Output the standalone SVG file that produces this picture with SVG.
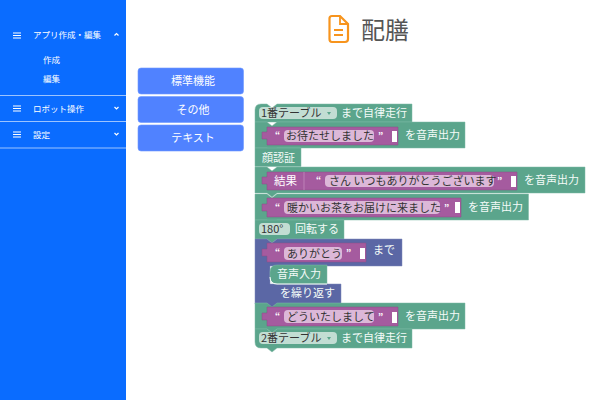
<svg xmlns="http://www.w3.org/2000/svg" width="600" height="400" viewBox="0 0 600 400">
<style>
text{font-family:"Noto Sans CJK JP","Noto Sans",sans-serif}
.g{fill:#5ba58c;stroke:#7fb8a4;stroke-width:.5}
.b{fill:#5b67a5;stroke:#7f89b8;stroke-width:.5}
.p{fill:#a55b9f;stroke:#8a4c85;stroke-width:.5}
.f{fill:#dcb8d8}
.d{fill:#c2ddd3}
.w{fill:#f4fbf8;font-size:11px}
.k{fill:#333;font-size:11px}
.q{fill:#fff;font-size:11.500px}
.o{fill:#fff;font-size:9px;font-weight:bold}
.m{fill:#fff;font-size:8.500px}
.s{fill:#fff;font-size:8.500px}
.n{fill:#5082ff;stroke:#6f98ff;stroke-width:.6}
.t{fill:#fff;font-size:11px;text-anchor:middle}
.l{stroke:#9cc4ff;stroke-width:1;fill:none}
.h{stroke:#fff;stroke-width:1.200;fill:none}
.c{stroke:#fff;stroke-width:1.200;fill:none}
.a{fill:#5ba58c}
</style>
<rect width="600" height="400" fill="#fff"/>
<g id="sidebar">
<rect x="0" y="0" width="126" height="400" fill="#0a6cff"/>
<path class="l" d="M0 95.500H126M0 121.500H126M0 148H126"/>
</g>
<g id="menu-app">
<path class="h" d="M13 33H21M13 35.500H21M13 38H21"/>
<text class="m" x="33" y="37.500">アプリ作成・編集</text>
<path class="c" d="M114.500 35.500L116.500 33.500L118.500 35.500"/>
<text class="s" x="43" y="63">作成</text>
<text class="s" x="43" y="82">編集</text>
</g>
<g id="menu-robot">
<path class="h" d="M13 106H21M13 108.500H21M13 111H21"/>
<text class="m" x="33" y="111.500">ロボット操作</text>
<path class="c" d="M114.500 107L116.500 109L118.500 107"/>
</g>
<g id="menu-settings">
<path class="h" d="M13 132H21M13 134.500H21M13 137H21"/>
<text class="m" x="33" y="137.500">設定</text>
<path class="c" d="M114.500 133L116.500 135L118.500 133"/>
</g>
<g id="title">
<path d="M332 16H340L348 24V39Q348 42 345 42H332Q329.500 42 329.500 39V18.500Q329.500 16 332 16Z" fill="none" stroke="#f7941d" stroke-width="2.200"/>
<path d="M340 16V24H348M334 30H343M334 35H343" fill="none" stroke="#f7941d" stroke-width="1.800"/>
<text x="361" y="39" font-size="24" fill="#555">配膳</text>
</g>
<g id="btn-standard"><rect class="n" x="138" y="68" width="105.500" height="26" rx="3"/><text class="t" x="193" y="85">標準機能</text></g>
<g id="btn-other"><rect class="n" x="138" y="96.500" width="105.500" height="26" rx="3"/><text class="t" x="193" y="113.500">その他</text></g>
<g id="btn-text"><rect class="n" x="138" y="125" width="105.500" height="26" rx="3"/><text class="t" x="193" y="142">テキスト</text></g>
<g id="block-table1">
<path class="g" d="M255 110Q255 104 261 104H267L272 108L277 104H412V122H255Z"/>
<rect class="d" x="259" y="107" width="78" height="12" rx="4"/>
<text class="k" x="261" y="117">1番テーブル</text>
<path class="a" d="M327 112H331L329 115Z"/>
<text class="w" x="341" y="117">まで自律走行</text>
</g>
<g id="block-say1">
<path class="g" d="M255 122H267L272 126L277 122H465V148H277L272 152L267 148H255Z"/>
<path class="p" d="M267 127H398V145H267V139H262V132H267Z"/>
<text class="o" x="275" y="139">“</text>
<rect class="f" x="284" y="130" width="90" height="12" rx="4"/>
<text class="k" x="286" y="140">お待たせしました</text>
<text class="o" x="378" y="139">”</text>
<path d="M392 131H397V142H392Z" fill="#fff"/>
<text class="w" x="405" y="139">を音声出力</text>
</g>
<g id="block-face">
<path class="g" d="M255 148H301V166.500H255Z"/>
<text class="w" x="262" y="162">顔認証</text>
</g>
<g id="block-say2">
<path class="g" d="M255 167H267L272 171L277 167H585V193H277L272 197L267 193H255Z"/>
<path class="p" d="M267 172H517V190H267V184H262V177H267Z"/>
<text class="q" x="274" y="184.500">結果</text>
<path d="M304 172V190" stroke="#c48cbe" stroke-width=".8"/>
<text class="o" x="316" y="184">“</text>
<rect class="f" x="325" y="175" width="169" height="12" rx="4"/>
<text class="k" x="329" y="185">さん いつもありがとうございます</text>
<text class="o" x="497" y="184">”</text>
<path d="M511 176H516V187H511Z" fill="#fff"/>
<text class="w" x="524" y="184">を音声出力</text>
</g>
<g id="block-say3">
<path class="g" d="M255 194H267L272 198L277 194H528.500V220H277L272 224L267 220H255Z"/>
<path class="p" d="M267 198H461V217H267V211H262V204H267Z"/>
<text class="o" x="275" y="211">“</text>
<rect class="f" x="284" y="201" width="156" height="13" rx="4"/>
<text class="k" x="287" y="212">暖かいお茶をお届けに来ました</text>
<text class="o" x="444" y="211">”</text>
<path d="M455 202H460V213H455Z" fill="#fff"/>
<text class="w" x="468" y="211">を音声出力</text>
</g>
<g id="block-turn">
<path class="g" d="M255 220H344V239H277L272 243L267 239H255Z"/>
<rect class="d" x="259" y="223" width="31" height="12" rx="4"/>
<text class="k" x="261" y="233">180°</text>
<text class="w" x="295" y="233">回転する</text>
</g>
<g id="block-repeat">
<path class="b" d="M255 239H267L272 243L277 239H402V266H292L287 270L282 266H270V284H341V304H277L272 308L267 304H255Z"/>
<path class="p" d="M267 243H366V262H267V256H262V249H267Z"/>
<text class="o" x="275" y="256">“</text>
<rect class="f" x="284" y="247" width="58" height="13" rx="4"/>
<text class="k" x="287" y="258">ありがとう</text>
<text class="o" x="346" y="256">”</text>
<path d="M360 248H365V259H360Z" fill="#fff"/>
<text class="w" x="373" y="254">まで</text>
<text class="w" x="280" y="297">を繰り返す</text>
</g>
<g id="block-voice">
<path class="g" d="M270 272Q270 265 277 265H327V284H277Q270 284 270 277Z"/>
<path d="M270 277Q270 284 277 284H327" fill="none" stroke="#fff" stroke-width="1"/>
<text class="w" x="277" y="278">音声入力</text>
</g>
<g id="block-say4">
<path class="g" d="M255 303H267L272 307L277 303H465V329H277L272 333L267 329H255Z"/>
<path class="p" d="M267 307H398V326H267V320H262V313H267Z"/>
<text class="o" x="275" y="320">“</text>
<rect class="f" x="284" y="310" width="90" height="13" rx="4"/>
<text class="k" x="287" y="321">どういたしまして</text>
<text class="o" x="378" y="320">”</text>
<path d="M392 312H397V323H392Z" fill="#fff"/>
<text class="w" x="405" y="320">を音声出力</text>
</g>
<g id="block-table2">
<path class="g" d="M255 329H267L272 333L277 329H412V348H277L272 352L267 348H261Q255 348 255 342Z"/>
<rect class="d" x="259" y="332" width="78" height="12" rx="4"/>
<text class="k" x="261" y="342">2番テーブル</text>
<path class="a" d="M327 337H331L329 340Z"/>
<text class="w" x="341" y="342">まで自律走行</text>
</g>
</svg>
